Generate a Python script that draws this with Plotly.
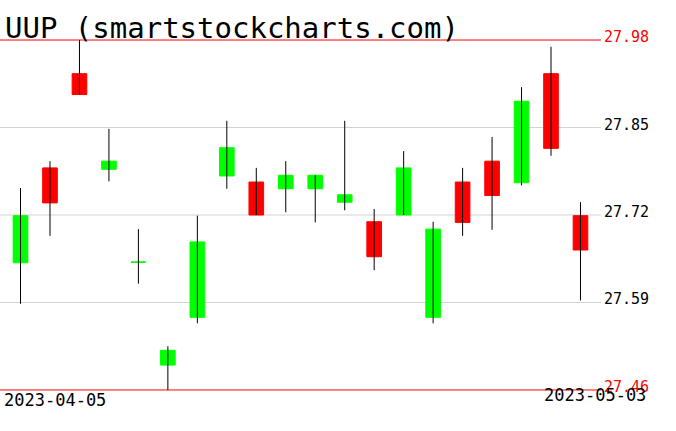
import numpy as np
import plotly.graph_objects as go

dates = ["2023-04-05", "2023-04-06", "2023-04-10", "2023-04-11", "2023-04-12",
         "2023-04-13", "2023-04-14", "2023-04-17", "2023-04-18", "2023-04-19",
         "2023-04-20", "2023-04-21", "2023-04-24", "2023-04-25", "2023-04-26",
         "2023-04-27", "2023-04-28", "2023-05-01", "2023-05-02", "2023-05-03"]
opens = [27.649, 27.790, 27.930, 27.788, 27.650, 27.497, 27.568, 27.778, 27.769, 27.759,
         27.759, 27.739, 27.710, 27.720, 27.568, 27.769, 27.800, 27.768, 27.930, 27.719]
highs = [27.760, 27.800, 27.980, 27.848, 27.699, 27.525, 27.719, 27.860, 27.790, 27.800,
         27.779, 27.860, 27.729, 27.815, 27.710, 27.790, 27.836, 27.910, 27.970, 27.739]
lows = [27.588, 27.689, 27.899, 27.770, 27.618, 27.460, 27.559, 27.759, 27.720, 27.724,
        27.709, 27.727, 27.638, 27.720, 27.559, 27.689, 27.698, 27.764, 27.808, 27.593]
closes = [27.719, 27.738, 27.899, 27.800, 27.650, 27.519, 27.680, 27.820, 27.720, 27.779,
          27.779, 27.750, 27.658, 27.790, 27.699, 27.709, 27.749, 27.889, 27.819, 27.668]
grid_ticks = [27.59, 27.72, 27.85]
limit_ticks = [27.98, 27.46]
title_text = "UUP (smartstockcharts.com)"

GREEN = "#00ff00"
RED = "#ff0000"
MONO = "DejaVu Sans Mono"

o = np.array(opens); c = np.array(closes)
up = c >= o

fig = go.Figure()

# wicks
wx, wy = [], []
for d, h, l in zip(dates, highs, lows):
    wx += [d, d, None]
    wy += [l, h, None]
fig.add_trace(go.Scatter(x=wx, y=wy, mode="lines", line=dict(color="black", width=1),
                         hoverinfo="skip", showlegend=False))

# bodies
for mask, col in ((up, GREEN), (~up, RED)):
    idx = np.where(mask)[0]
    fig.add_trace(go.Candlestick(
        x=[dates[i] for i in idx],
        open=o[idx], close=c[idx],
        high=np.maximum(o[idx], c[idx]), low=np.minimum(o[idx], c[idx]),
        increasing=dict(line=dict(color=col, width=1), fillcolor=col),
        decreasing=dict(line=dict(color=col, width=1), fillcolor=col),
        showlegend=False))

shapes = []
for v in grid_ticks:
    shapes.append(dict(type="line", xref="paper", x0=0, x1=1, yref="y", y0=v, y1=v,
                       line=dict(color="#d3d3d3", width=1), layer="below"))
for v in limit_ticks:
    shapes.append(dict(type="line", xref="paper", x0=0, x1=1, yref="y", y0=v, y1=v,
                       line=dict(color=RED, width=1), layer="below"))

ann = []
for v in grid_ticks:
    ann.append(dict(x=1, xref="paper", xanchor="left", xshift=1, y=v, yref="y",
                    yanchor="middle", yshift=3, text=f"{v:.2f}", showarrow=False,
                    font=dict(family=MONO, size=15, color="black")))
for v in limit_ticks:
    ann.append(dict(x=1, xref="paper", xanchor="left", xshift=1, y=v, yref="y",
                    yanchor="middle", yshift=3, text=f"{v:.2f}", showarrow=False,
                    font=dict(family=MONO, size=15, color=RED)))
ann.append(dict(x=0, xref="paper", xanchor="left", xshift=2, y=-0.0229, yref="paper",
                yanchor="middle", text=dates[0], showarrow=False,
                font=dict(family=MONO, size=17, color="black")))
ann.append(dict(x=1.078, xref="paper", xanchor="right", y=-0.0088, yref="paper",
                yanchor="middle", text=dates[-1], showarrow=False,
                font=dict(family=MONO, size=17, color="black")))
ann.append(dict(x=0, xref="paper", xanchor="left", xshift=3, y=1.0282, yref="paper",
                yanchor="middle", text=title_text, showarrow=False,
                font=dict(family=MONO, size=29, color="black")))

fig.update_layout(
    width=676, height=431,
    margin=dict(l=0, r=75, t=38, b=39),
    paper_bgcolor="white", plot_bgcolor="white",
    boxgap=0.29,
    shapes=shapes, annotations=ann,
    xaxis=dict(type="category", range=[-0.696, 19.696], showgrid=False, zeroline=False,
               showticklabels=False, ticks="", rangeslider=dict(visible=False),
               fixedrange=True),
    yaxis=dict(range=[27.457, 27.983], showgrid=False, zeroline=False,
               showticklabels=False, ticks="", fixedrange=True),
)

fig.write_html("out.html", config={"displayModeBar": False},
               post_script="document.body.style.margin='0';document.body.style.overflow='hidden';")
